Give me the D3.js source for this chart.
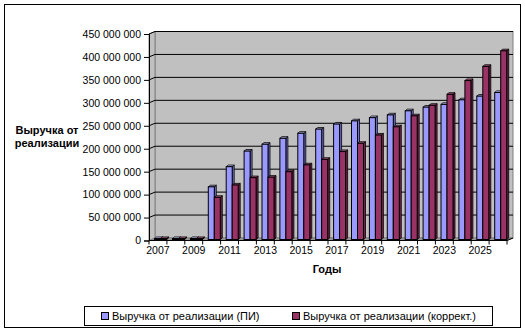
<!DOCTYPE html>
<html><head><meta charset="utf-8">
<script src="https://cdn.jsdelivr.net/npm/d3@7"></script>
<style>
html,body{margin:0;padding:0;background:#fff;}
svg{display:block;font-family:"Liberation Sans",Arial,sans-serif;}
</style></head>
<body><svg id="c" width="525" height="332"></svg>
<script>
const years = [2007,2008,2009,2010,2011,2012,2013,2014,2015,2016,2017,2018,2019,2020,2021,2022,2023,2024,2025,2026];
const seriesPI = [2e6,2e6,2e6,115e6,159e6,193e6,208e6,221e6,232e6,241e6,252e6,259e6,266e6,272e6,281e6,289e6,295e6,305e6,313e6,321e6];
const seriesKorr = [2e6,2e6,2e6,92e6,119e6,135e6,136e6,148e6,163e6,175e6,192e6,210e6,228e6,246e6,270e6,293e6,317e6,347e6,378e6,412e6];
const yTickValues = [0,50e6,100e6,150e6,200e6,250e6,300e6,350e6,400e6,450e6];
const xTickLabels = [2007,2009,2011,2013,2015,2017,2019,2021,2023,2025];
const seriesNames = ["Выручка от реализации (ПИ)","Выручка от реализации (коррект.)"];
const yTitle = ["Выручка от","реализации"];
const xTitle = "Годы";

const svg = d3.select("#c");
const DX = 6, DY = 2.5;
const x = d3.scaleBand().domain(years).range([149,507]);
const yF = d3.scaleLinear().domain([0,450e6]).range([240.5,34]);
const yB = d3.scaleLinear().domain([0,450e6]).range([238,31.5]);
const yBar = d3.scaleLinear().domain([0,450e6]).range([239.5,33.4]);
const fmt = v => d3.format(",")(v).replace(/,/g," ");

// outer border
svg.append("rect").attr("x",4.5).attr("y",4.5).attr("width",516).attr("height",323)
  .attr("fill","#fff").attr("stroke","#000");

const x0 = x.range()[0], x1 = x.range()[1];
// back wall
svg.append("rect").attr("x",x0+DX).attr("y",yB(450e6)).attr("width",x1-x0)
  .attr("height",yB(0)-yB(450e6)).attr("fill","#c0c0c0").attr("stroke","#808080");
// side wall
svg.append("path").attr("d",`M${x0},${yF(0)}L${x0},${yF(450e6)}L${x0+DX},${yB(450e6)}L${x0+DX},${yB(0)}Z`)
  .attr("fill","#c0c0c0").attr("stroke","#808080");
// floor
svg.append("path").attr("d",`M${x0},${yF(0)}L${x1},${yF(0)}L${x1+DX},${yB(0)}L${x0+DX},${yB(0)}Z`)
  .attr("fill","#969696").attr("stroke","#808080");
// gridlines
yTickValues.slice(1).forEach(v=>{
  svg.append("path").attr("d",`M${x0},${yF(v)}L${x0+DX},${yB(v)}L${x1+DX},${yB(v)}`)
    .attr("fill","none").attr("stroke","#000");
});

// bars
const bw = 6, bdx = 2, bdy = 1.6;
const colors = [{f:"#9999ff",t:"#c4c4ff",s:"#7070cc"},{f:"#993366",t:"#b85c88",s:"#6e2449"}];
[seriesPI, seriesKorr].forEach((ser,si)=>{
  const c = colors[si];
  const g = svg.append("g");
  ser.forEach((v,i)=>{
    const bx = x(years[i]) + 5.6 + si*bw;
    const by = yBar(v), b0 = yBar(0);
    g.append("path").attr("d",`M${bx+bw},${by}L${bx+bw+bdx},${by-bdy}L${bx+bw+bdx},${b0-bdy}L${bx+bw},${b0}Z`)
      .attr("fill",c.s).attr("stroke","#000").attr("stroke-width",0.8);
    g.append("path").attr("d",`M${bx},${by}L${bx+bdx},${by-bdy}L${bx+bw+bdx},${by-bdy}L${bx+bw},${by}Z`)
      .attr("fill",c.t).attr("stroke","#000").attr("stroke-width",0.8);
    g.append("rect").attr("x",bx).attr("y",by).attr("width",bw).attr("height",b0-by)
      .attr("fill",c.f).attr("stroke","#000").attr("stroke-width",1);
  });
});

// y axis
const yAxis = d3.axisLeft(yF).tickValues(yTickValues).tickFormat(fmt).tickSize(5).tickPadding(3);
const ga = svg.append("g").attr("transform",`translate(${x0},0)`).call(yAxis);
ga.select(".domain").attr("stroke","#000");
ga.selectAll("text").attr("font-size","10.5px").attr("fill","#000").attr("font-family","Liberation Sans, Arial, sans-serif");

// x axis
const xAxis = d3.axisBottom(x).tickValues(xTickLabels).tickSize(0).tickPadding(6);
const gx = svg.append("g").attr("transform",`translate(0,${yF(0)})`).call(xAxis);
gx.select(".domain").remove();
gx.selectAll("text").attr("font-size","10.5px").attr("fill","#000").attr("font-family","Liberation Sans, Arial, sans-serif");
// x ticks at category boundaries
const bounds = years.map(d=>x(d)).concat([x1]);
svg.append("g").selectAll("line").data(bounds).join("line")
  .attr("x1",d=>d).attr("x2",d=>d).attr("y1",yF(0)).attr("y2",yF(0)+4).attr("stroke","#000");
svg.append("line").attr("x1",x0).attr("x2",x1).attr("y1",yF(0)).attr("y2",yF(0)).attr("stroke","#000");
svg.append("line").attr("x1",x1).attr("x2",x1+DX).attr("y1",yF(0)).attr("y2",yB(0)).attr("stroke","#000");

// titles
const yt = svg.append("text").attr("font-weight","bold").attr("font-size","11px").attr("text-anchor","middle");
yTitle.forEach((t,i)=>yt.append("tspan").attr("x",47).attr("y",134+i*13).text(t));
svg.append("text").attr("x",327).attr("y",273).attr("font-weight","bold").attr("font-size","11px")
  .attr("text-anchor","middle").text(xTitle);

// legend
svg.append("rect").attr("x",84.5).attr("y",306.5).attr("width",408).attr("height",19)
  .attr("fill","#fff").attr("stroke","#000");
const legX = [101,292];
seriesNames.forEach((n,i)=>{
  svg.append("rect").attr("x",legX[i]+0.5).attr("y",312.5).attr("width",7).attr("height",7)
    .attr("fill",colors[i].f).attr("stroke","#000");
  svg.append("text").attr("x",legX[i]+11).attr("y",320).attr("font-size","11px").text(n);
});
</script></body></html>
